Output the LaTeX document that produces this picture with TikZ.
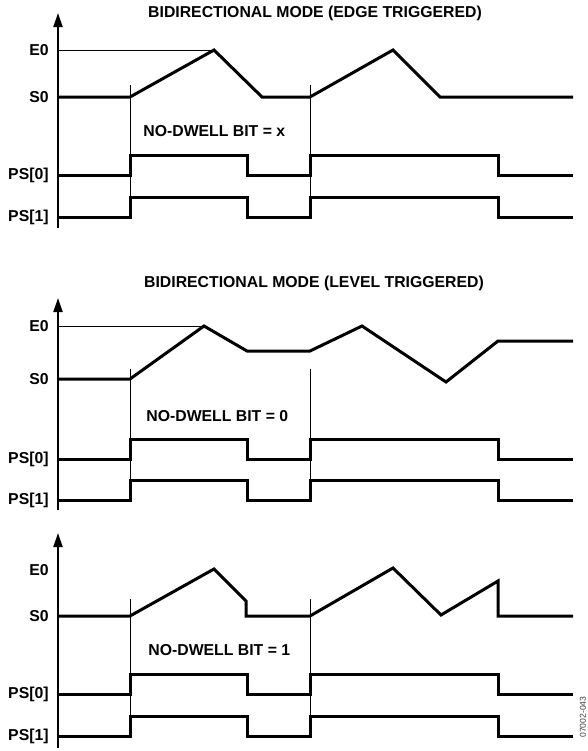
\documentclass[tikz,border=0pt]{standalone}
\usepackage{fontspec}
\setmainfont{Liberation Sans}
\usetikzlibrary{arrows.meta}
\tikzset{sig/.style={line width=1.5pt,line join=miter},
guide/.style={line width=0.5pt},
axis/.style={line width=1pt,-{Triangle[length=7pt,width=4.5pt]}},
lab/.style={font=\bfseries\fontsize{7.9}{9}\selectfont,inner sep=0pt},
code/.style={font=\fontsize{4.3}{5}\selectfont,text=black!75,inner sep=0pt,rotate=90}}

\begin{document}
\begin{tikzpicture}[x=0.5pt,y=-0.5pt]
\useasboundingbox (0,0) rectangle (588,751);
% edge triggered
\node[lab] (t1) at (315,13) {BIDIRECTIONAL MODE (EDGE TRIGGERED)};
\draw[axis] (58,228) -- (58,13);
\node[lab,anchor=east] (e1) at (49,50) {E0};
\node[lab,anchor=east] (s1) at (49,97) {S0};
\node[lab,anchor=east] (p1a) at (49,175) {PS[0]};
\node[lab,anchor=east] (p1b) at (49,217) {PS[1]};
\draw[guide] (58,50) -- (214,50);
\draw[sig] (58,97) -- (130,97) -- (214,50) -- (262,97) -- (310,97) -- (393,50) -- (440,97) -- (573,97);
\draw[guide] (130,85) -- (130,217) (310,85) -- (310,217);
\node[lab,anchor=west] (nd1) at (143,131) {NO-DWELL BIT = x};
% level triggered
\node[lab] (t2) at (314,283) {BIDIRECTIONAL MODE (LEVEL TRIGGERED)};
\draw[axis] (58,510) -- (58,298);
\node[lab,anchor=east] (e2) at (49,326) {E0};
\node[lab,anchor=east] (s2) at (49,379) {S0};
\node[lab,anchor=east] (p2a) at (49,459) {PS[0]};
\node[lab,anchor=east] (p2b) at (49,500) {PS[1]};
\draw[guide] (58,326) -- (204,326);
\draw[sig] (58,379) -- (130,379) -- (204,326) -- (247,351) -- (310,351) -- (362,326) -- (446,382) -- (498,341) -- (573,341);
\draw[guide] (130,369) -- (130,500) (310,369) -- (310,500);
\node[lab,anchor=west] (nd2) at (146,416) {NO-DWELL BIT = 0};
% no-dwell
\draw[axis] (58,748) -- (58,533);
\node[lab,anchor=east] (e3) at (49,570) {E0};
\node[lab,anchor=east] (s3) at (49,616) {S0};
\node[lab,anchor=east] (p3a) at (49,694) {PS[0]};
\node[lab,anchor=east] (p3b) at (49,736) {PS[1]};
\draw[sig] (58,616) -- (130,616) -- (214,569) -- (246,601) -- (246,616) -- (310,616) -- (393,568) -- (441,615) -- (498,581) -- (498,616) -- (573,616);
\draw[guide] (130,599) -- (130,736) (310,599) -- (310,736);
\node[lab,anchor=west] (nd3) at (148,650) {NO-DWELL BIT = 1};
% position outputs
\foreach \y in {175,217,459,500,694,736}
  \draw[sig] (58,\y) -- (130,\y) -- (130,\y-20) -- (247,\y-20) -- (247,\y) -- (310,\y) -- (310,\y-20) -- (498,\y-20) -- (498,\y) -- (573,\y);
\node[code] (fig) at (583,717) {07002-043};
\end{tikzpicture}
\end{document}
